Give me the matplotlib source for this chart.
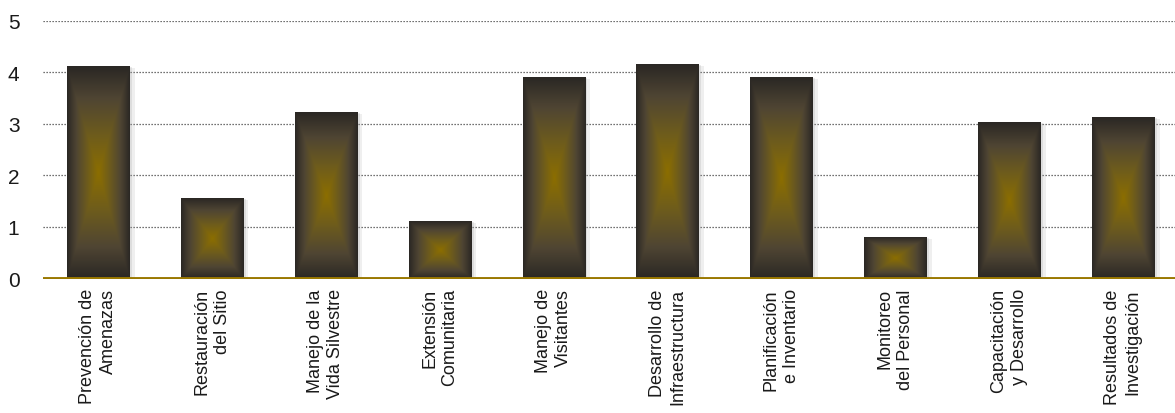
import numpy as np
import matplotlib
matplotlib.use('Agg')
import matplotlib.pyplot as plt
import matplotlib.patheffects as pe
from matplotlib.colors import to_rgb

plt.rcParams['font.family'] = ['Liberation Sans', 'DejaVu Sans']

categories = ['Prevención de\nAmenazas', 'Restauración\ndel Sitio', 'Manejo de la\nVida Silvestre',
              'Extensión\nComunitaria', 'Manejo de\nVisitantes', 'Desarrollo de\nInfraestructura',
              'Planificación\ne Inventario', 'Monitoreo\ndel Personal', 'Capacitación\ny Desarrollo',
              'Resultados de\nInvestigación']
values = [4.12, 1.56, 3.23, 1.11, 3.90, 4.16, 3.90, 0.80, 3.03, 3.13]
yticks = [0, 1, 2, 3, 4, 5]

# colour stops from the centre of a bar out to its edges
stops = [0.0, 0.35, 0.7, 1.0]
stop_cols = np.array([to_rgb(c) for c in ['#8c6e00', '#6e5c1c', '#4f4533', '#2a2724']])

def pyramid_gradient(n=300):
    u = np.linspace(-1, 1, n)
    U, V = np.meshgrid(u, u)
    t = np.maximum(np.abs(U), np.abs(V))
    img = np.zeros((n, n, 3))
    for k in range(3):
        img[..., k] = np.interp(t, stops, stop_cols[:, k])
    return img

fig = plt.figure(figsize=(11.75, 4.14), dpi=100)
ax = fig.add_axes([43/1175, 1 - 279.5/414, 1 - 43/1175, (279.5 - 21.7)/414])

x = np.arange(len(values))
bars = ax.bar(x, values, width=0.545, color='#2a2623', zorder=3,
              path_effects=[pe.SimplePatchShadow(offset=(4, -1.5), shadow_rgbFace='#aaaaaa', alpha=0.18),
                            pe.SimplePatchShadow(offset=(2, -0.5), shadow_rgbFace='#999999', alpha=0.2),
                            pe.Normal()])

grad = pyramid_gradient()
for b in bars:
    x0, w, h = b.get_x(), b.get_width(), b.get_height()
    ax.imshow(grad, extent=[x0, x0 + w, 0, h], aspect='auto', zorder=4, interpolation='bilinear')

for yv in yticks[1:]:
    ax.axhline(yv, color='#444444', lw=0.9, ls=(0, (1, 1.4)), zorder=1)
ax.axhline(0, color='#9a7800', lw=2.8, zorder=5)

ax.set_xlim(-0.483, 9.456)
ax.set_ylim(0, 5)
ax.set_yticks(yticks)
ax.set_yticklabels([str(v) for v in yticks], fontsize=15, color='#1a1a1a')
ax.set_xticks(x)
ax.set_xticklabels(categories, rotation=90, fontsize=13, color='#1a1a1a',
                   multialignment='right', ha='center', va='top', linespacing=1.25)
ax.tick_params(axis='both', length=0)
ax.tick_params(axis='y', pad=17)
ax.tick_params(axis='x', pad=7)
for s in ax.spines.values():
    s.set_visible(False)

fig.savefig('out.png', dpi=100)
